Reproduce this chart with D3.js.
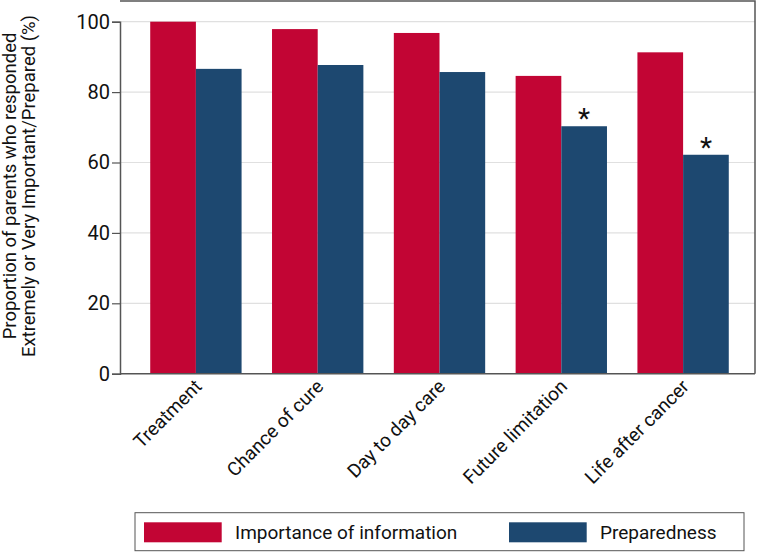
<!DOCTYPE html>
<html><head><meta charset="utf-8">
<script src="https://cdn.jsdelivr.net/npm/d3@7"></script>
<style>body{margin:0;background:#fff}svg{display:block;font-family:Roboto,sans-serif}</style>
</head><body>
<svg id="c" width="759" height="552"></svg>
<script>
const categories = ["Treatment","Chance of cure","Day to day care","Future limitation","Life after cancer"];
const importance = [100, 97.9, 96.8, 84.6, 91.3];
const preparedness = [86.6, 87.7, 85.7, 70.3, 62.2];
const significant = [false, false, false, true, true];
const yTicks = [0,20,40,60,80,100];
const seriesNames = ["Importance of information","Preparedness"];
const colors = ["#c20534","#1d4870"];

(function(){
const svg = d3.select("#c");
const FONT = "Roboto";
const pl = 120, pr = 755, pt = 1, pb = 373.7;
const y = d3.scaleLinear().domain([0,100]).range([pb, 21.7]);
const x = d3.scaleBand().domain(categories).range([135, 744]).paddingInner(0.25).paddingOuter(0.125);
const xs = d3.scaleBand().domain([0,1]).range([0, x.bandwidth()]);

svg.append("g").selectAll("line").data(yTicks.filter(d=>d>0)).join("line")
  .attr("x1", pl).attr("x2", pr).attr("y1", d=>y(d)).attr("y2", d=>y(d))
  .attr("stroke", "#e0e0e0").attr("stroke-width", 1.2);

svg.append("path").attr("d", `M${pl},${pt}H${pr}V${pb}`).attr("fill","none").attr("stroke","#555").attr("stroke-width",1.5);

const g = svg.append("g");
categories.forEach((c,i)=>{
  [importance[i], preparedness[i]].forEach((v,j)=>{
    g.append("rect").attr("x", x(c)+xs(j)).attr("width", xs.bandwidth())
      .attr("y", y(v)).attr("height", y(0)-y(v)).attr("fill", colors[j]);
  });
  if (significant[i]) {
    svg.append("text").attr("x", x(c)+xs(1)+xs.bandwidth()/2).attr("y", y(preparedness[i])+2)
      .attr("text-anchor","middle").attr("font-size", 28).attr("fill","#111").text("*");
  }
});

const ya = svg.append("g").attr("transform", `translate(${pl},0)`)
  .call(d3.axisLeft(y).tickValues(yTicks).tickSize(8).tickPadding(2));
ya.select(".domain").attr("stroke","#555").attr("stroke-width",1.5);
ya.selectAll(".tick line").attr("stroke","#555").attr("stroke-width",1.2);
ya.selectAll("text").attr("font-size", 20).attr("fill","#111").attr("font-family",FONT);

const xa = svg.append("g").attr("transform", `translate(0,${pb})`)
  .call(d3.axisBottom(x).tickSize(0).tickPadding(0));
xa.select(".domain").remove();
svg.append("line").attr("x1", pl).attr("x2", pr).attr("y1", pb).attr("y2", pb).attr("stroke","#555").attr("stroke-width",1.5);
xa.selectAll("text").attr("font-size", 19).attr("fill","#111").attr("font-family",FONT)
  .attr("text-anchor","end").attr("dy", 0).attr("y", 0)
  .attr("transform", "translate(7,14) rotate(-45)");

const yt = svg.append("text").attr("transform", "translate(0,186) rotate(-90)")
  .attr("text-anchor","middle").attr("font-size", 18.5).attr("fill","#111").attr("font-family",FONT);
yt.append("tspan").attr("x",0).attr("y",16).text("Proportion of parents who responded");
yt.append("tspan").attr("x",0).attr("y",35).text("Extremely or Very Important/Prepared (%)");

const lg = svg.append("g");
lg.append("rect").attr("x",135).attr("y",512.7).attr("width",609).attr("height",38).attr("fill","#fff").attr("stroke","#555").attr("stroke-width",1);
const lx = [144, 509];
seriesNames.forEach((n,j)=>{
  lg.append("rect").attr("x", lx[j]).attr("y",522.3).attr("width",77.7).attr("height",20).attr("fill",colors[j]);
  lg.append("text").attr("x", lx[j]+91).attr("y",539).attr("font-size",19).attr("fill","#111").attr("font-family",FONT).text(n);
});
})();
</script>
</body></html>
